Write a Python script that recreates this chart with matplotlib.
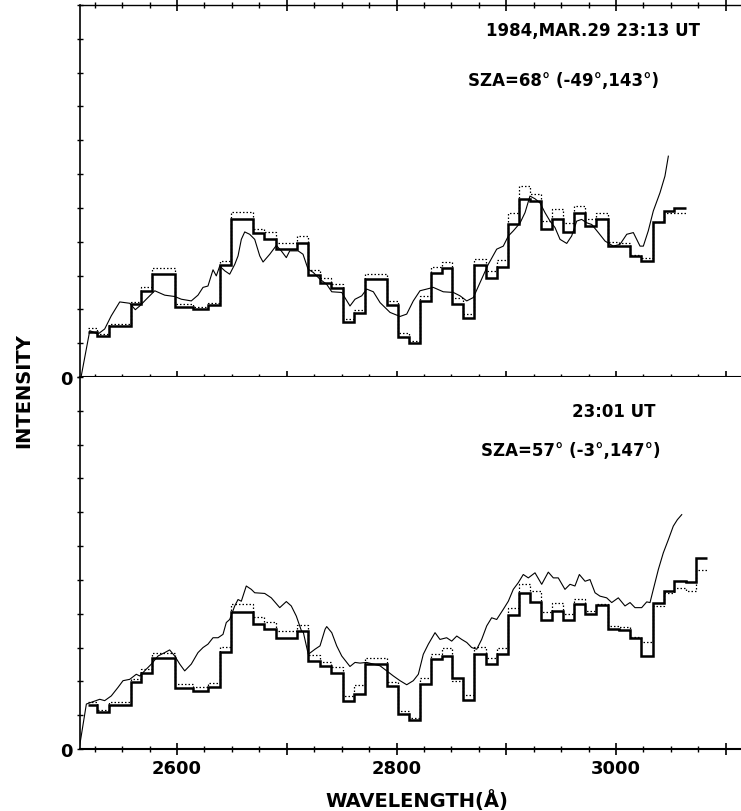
import matplotlib
matplotlib.use("Agg")
import matplotlib.pyplot as plt
from matplotlib.ticker import MultipleLocator, FixedLocator, FuncFormatter

plt.rcParams['font.family'] = ['DejaVu Sans']

# bin edges (angstrom) of the averaged spectra, shared by both observations
bin_edges = [2519, 2527, 2538, 2558, 2567, 2577, 2598, 2615, 2628, 2639,
             2649, 2669, 2679, 2690, 2709, 2719, 2730, 2740, 2751, 2761,
             2771, 2791, 2801, 2811, 2821, 2831, 2841, 2851, 2861, 2871,
             2882, 2892, 2902, 2912, 2922, 2932, 2942, 2952, 2962, 2972,
             2982, 2993, 3003, 3013, 3023, 3034, 3044, 3053, 3064, 3073,
             3083]

# 23:13 UT
top_step = [1.34, 1.20, 1.51, 2.17, 2.55, 3.04, 2.07, 2.00, 2.12, 3.30,
            4.66, 4.27, 4.09, 3.78, 3.97, 3.01, 2.79, 2.62, 1.63, 1.88,
            2.91, 2.12, 1.17, 1.02, 2.25, 3.09, 3.22, 2.15, 1.73, 3.30,
            2.94, 3.24, 4.51, 5.27, 5.19, 4.39, 4.68, 4.29, 4.84, 4.46,
            4.66, 3.87, 3.86, 3.58, 3.43, 4.58, 4.91, 5.00]
top_dotted = [1.44, 1.27, 1.56, 2.22, 2.65, 3.21, 2.15, 2.07, 2.20, 3.43,
              4.88, 4.39, 4.29, 3.97, 4.17, 3.16, 2.94, 2.74, 1.71, 1.99,
              3.04, 2.25, 1.29, 1.07, 2.40, 3.25, 3.41, 2.35, 1.86, 3.50,
              3.14, 3.46, 4.86, 5.66, 5.42, 4.61, 4.96, 4.56, 5.05, 4.66,
              4.84, 3.99, 3.95, 3.60, 3.53, 4.58, 4.86, 4.86]
top_wl = [2512.8, 2520.5, 2528.0, 2534.1, 2540.1, 2547.8, 2556.9, 2562.0, 2566.0, 2572.0,
          2579.7, 2588.8, 2597.9, 2603.9, 2613.0, 2619.1, 2623.7, 2628.2, 2632.8, 2635.8,
          2638.9, 2643.5, 2648.0, 2652.6, 2655.6, 2658.6, 2661.7, 2666.2, 2670.8, 2675.4,
          2678.4, 2684.5, 2690.5, 2695.0, 2699.6, 2702.7, 2710.3, 2714.8, 2719.4, 2724.2,
          2730.3, 2736.4, 2741.0, 2750.1, 2757.6, 2762.2, 2768.3, 2772.8, 2778.9, 2785.0,
          2794.1, 2803.2, 2809.3, 2815.3, 2821.4, 2827.5, 2833.5, 2842.6, 2851.8, 2857.9,
          2864.0, 2870.0, 2876.1, 2883.6, 2891.3, 2897.3, 2901.9, 2906.4, 2912.5, 2917.1,
          2921.6, 2926.2, 2930.7, 2935.3, 2939.9, 2944.4, 2949.0, 2955.1, 2959.6, 2964.2,
          2968.7, 2973.3, 2977.9, 2983.9, 2990.0, 2997.5, 3003.6, 3009.8, 3015.8, 3021.9,
          3024.9, 3029.4, 3034.0, 3040.1, 3044.6, 3047.7]
top_int = [0.04, 1.37, 1.27, 1.42, 1.81, 2.22, 2.18, 1.99, 2.10, 2.30,
           2.55, 2.42, 2.38, 2.30, 2.25, 2.42, 2.65, 2.69, 3.17, 2.99,
           3.28, 3.14, 3.04, 3.33, 3.58, 4.07, 4.29, 4.22, 4.07, 3.58,
           3.40, 3.63, 3.89, 3.73, 3.53, 3.73, 3.73, 3.63, 3.19, 3.09,
           2.89, 2.74, 2.52, 2.50, 2.10, 2.30, 2.40, 2.60, 2.52, 2.20,
           1.91, 1.79, 1.86, 2.25, 2.55, 2.60, 2.65, 2.52, 2.50, 2.40,
           2.25, 2.35, 2.79, 3.33, 3.78, 3.87, 4.17, 4.32, 4.55, 4.86,
           5.35, 5.27, 5.15, 4.86, 4.61, 4.42, 4.07, 3.95, 4.17, 4.61,
           4.66, 4.56, 4.51, 4.27, 4.02, 3.87, 3.92, 4.22, 4.27, 3.87,
           3.87, 4.32, 4.91, 5.45, 5.94, 6.53]

# 23:01 UT
bot_step = [1.30, 1.08, 1.30, 1.97, 2.24, 2.68, 1.79, 1.72, 1.82, 2.87,
            4.05, 3.69, 3.54, 3.27, 3.49, 2.61, 2.44, 2.26, 1.43, 1.62,
            2.51, 1.87, 1.03, 0.87, 1.92, 2.65, 2.75, 2.11, 1.46, 2.80,
            2.51, 2.80, 3.95, 4.62, 4.35, 3.81, 4.08, 3.81, 4.28, 3.98,
            4.25, 3.54, 3.52, 3.27, 2.75, 4.33, 4.67, 4.96, 4.94, 5.65]
bot_dotted = [1.38, 1.15, 1.40, 2.06, 2.36, 2.85, 1.92, 1.82, 1.95, 3.03,
              4.30, 3.91, 3.76, 3.49, 3.66, 2.77, 2.58, 2.41, 1.56, 1.89,
              2.70, 1.97, 1.13, 0.92, 2.09, 2.82, 2.98, 2.00, 1.60, 3.03,
              2.70, 3.00, 4.18, 4.87, 4.67, 4.05, 4.33, 3.98, 4.45, 4.08,
              4.28, 3.64, 3.60, 3.30, 3.15, 4.23, 4.60, 4.77, 4.67, 5.28]
bot_wl = [2511.3, 2517.4, 2523.5, 2529.6, 2534.1, 2540.1, 2546.2, 2550.8, 2556.9, 2562.9,
          2566.0, 2572.0, 2576.6, 2582.7, 2588.8, 2593.3, 2597.9, 2602.5, 2607.0, 2613.0,
          2619.1, 2623.7, 2628.2, 2632.8, 2637.4, 2641.9, 2644.9, 2648.0, 2652.6, 2655.6,
          2658.6, 2663.1, 2667.7, 2670.8, 2679.9, 2685.9, 2693.6, 2699.6, 2704.1, 2708.7,
          2713.3, 2715.1, 2719.6, 2725.7, 2730.3, 2734.9, 2736.4, 2741.0, 2745.5, 2750.1,
          2757.6, 2762.2, 2766.7, 2772.8, 2778.9, 2785.0, 2791.1, 2797.1, 2803.2, 2809.3,
          2815.3, 2819.9, 2824.4, 2829.0, 2835.1, 2839.6, 2845.7, 2850.3, 2854.9, 2859.4,
          2864.0, 2868.5, 2873.1, 2877.6, 2882.2, 2886.7, 2891.3, 2897.3, 2901.9, 2906.4,
          2911.0, 2915.5, 2920.1, 2926.2, 2932.3, 2938.3, 2942.9, 2947.4, 2953.5, 2958.1,
          2962.6, 2966.6, 2971.8, 2976.3, 2980.9, 2985.4, 2991.5, 2996.1, 3002.1, 3008.2,
          3012.8, 3017.3, 3023.4, 3028.0, 3031.0, 3034.0, 3038.6, 3043.1, 3047.7, 3052.2,
          3055.9, 3059.9]
bot_int = [0.10, 1.33, 1.40, 1.47, 1.43, 1.57, 1.82, 2.02, 2.06, 2.21,
           2.16, 2.36, 2.51, 2.75, 2.85, 2.93, 2.75, 2.51, 2.31, 2.51,
           2.85, 3.00, 3.10, 3.29, 3.29, 3.39, 3.74, 3.83, 4.23, 4.42,
           4.37, 4.82, 4.72, 4.62, 4.60, 4.47, 4.18, 4.36, 4.23, 3.93,
           3.50, 3.45, 2.80, 2.95, 3.05, 3.54, 3.62, 3.44, 3.05, 2.75,
           2.44, 2.56, 2.54, 2.56, 2.51, 2.46, 2.31, 2.16, 2.02, 1.90,
           2.02, 2.21, 2.80, 3.10, 3.44, 3.24, 3.29, 3.19, 3.34, 3.24,
           3.15, 3.00, 2.95, 3.24, 3.64, 3.88, 3.83, 4.13, 4.37, 4.72,
           4.92, 5.16, 5.06, 5.21, 4.87, 5.23, 5.06, 5.06, 4.72, 4.87,
           4.82, 5.16, 4.96, 5.01, 4.62, 4.52, 4.47, 4.33, 4.47, 4.23,
           4.33, 4.18, 4.18, 4.35, 4.33, 4.72, 5.31, 5.80, 6.19, 6.59,
           6.78, 6.93]

W, H = 741, 812
fig = plt.figure(figsize=(W / 100, H / 100), dpi=100, facecolor='w')


def axes_px(x0, y0, x1, y1):
    """add axes given pixel box (top-left origin)"""
    return fig.add_axes([x0 / W, 1 - y1 / H, (x1 - x0) / W, (y1 - y0) / H])


def text_px(x, y, s, **kw):
    fig.text(x / W, 1 - y / H, s, fontweight='bold', **kw)


def draw_panel(ax, step, dotted, wl, inten):
    n = len(step)
    ax.stairs(dotted, bin_edges[:n + 1], baseline=None, color='k',
              lw=0.9, linestyle=(0, (1.2, 1.6)))
    ax.plot(wl, inten, color='k', lw=0.8)
    ax.stairs(step, bin_edges[:n + 1], baseline=None, color='k', lw=1.8)

    ax.set_xlim(2511.6, 3113.9)
    ax.set_ylim(0, 11)
    ax.spines['right'].set_visible(False)
    ax.spines['left'].set_linewidth(1.2)
    ax.spines['bottom'].set_linewidth(1.5)

    ax.xaxis.set_major_locator(MultipleLocator(100))
    ax.xaxis.set_minor_locator(MultipleLocator(25))
    ax.xaxis.set_major_formatter(
        FuncFormatter(lambda v, p: f"{v:.0f}" if v % 200 == 0 else ""))
    ax.yaxis.set_major_locator(FixedLocator([0]))
    ax.yaxis.set_minor_locator(MultipleLocator(1))
    ax.tick_params(axis='x', which='major', direction='inout', length=9,
                   width=1.2, pad=2.7, labelsize=13)
    ax.tick_params(axis='x', which='minor', direction='inout', length=4.5,
                   width=1.0)
    ax.tick_params(axis='y', which='both', direction='inout', length=4.5,
                   width=1.0, pad=3.2, labelsize=13)
    for lab in ax.get_xticklabels() + ax.get_yticklabels():
        lab.set_fontweight('bold')


ax_top = axes_px(80, 6, 741, 378)
ax_bot = axes_px(80, 378, 741, 750)

draw_panel(ax_top, top_step, top_dotted, top_wl, top_int)
draw_panel(ax_bot, bot_step, bot_dotted, bot_wl, bot_int)

ax_top.spines['top'].set_linewidth(1.0)
ax_top.tick_params(axis='x', which='both', top=True, labelbottom=False)
ax_bot.spines['top'].set_visible(False)

# annotations
text_px(593, 31, "1984,MAR.29 23:13 UT", ha='center', va='center', fontsize=12)
text_px(563, 81, "SZA=68° (-49°,143°)", ha='center', va='center', fontsize=12)
text_px(614, 412, "23:01 UT", ha='center', va='center', fontsize=12)
text_px(571, 451, "SZA=57° (-3°,147°)", ha='center', va='center', fontsize=12)

text_px(24, 391, "INTENSITY", ha='center', va='center', rotation=90,
        fontsize=14)
text_px(417, 801, "WAVELENGTH(Å)", ha='center', va='center', fontsize=14)

fig.savefig("out.png", dpi=100, facecolor='w')
